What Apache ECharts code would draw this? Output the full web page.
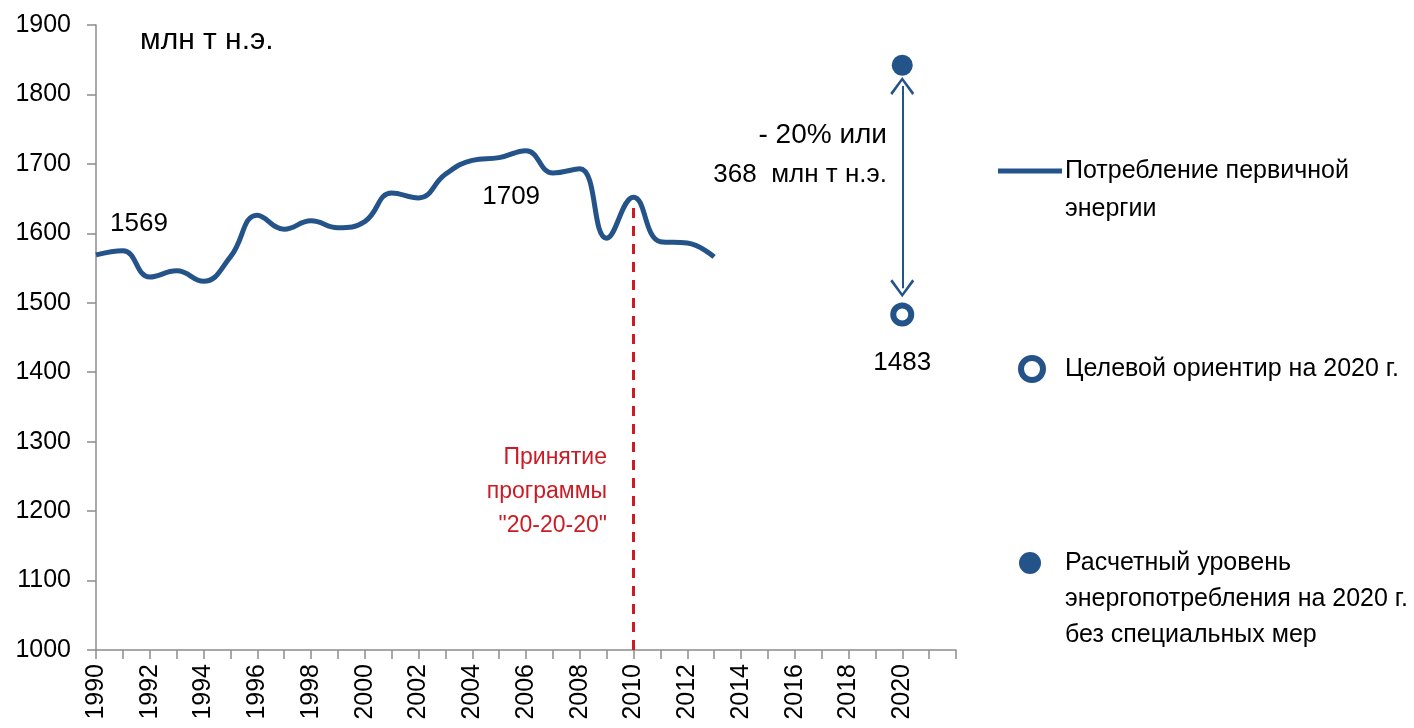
<!DOCTYPE html>
<html>
<head>
<meta charset="utf-8">
<script src="https://cdn.jsdelivr.net/npm/echarts@6/dist/echarts.min.js"></script>
<style>
html,body{margin:0;padding:0;background:#fff;}
#chart{width:1414px;height:728px;}
</style>
</head>
<body>
<div id="chart"></div>
<script>
// ---- data ----
const years = ['1990','1991','1992','1993','1994','1995','1996','1997','1998','1999','2000','2001','2002','2003','2004','2005','2006','2007','2008','2009','2010','2011','2012','2013','2014','2015','2016','2017','2018','2019','2020','2021','2022'];
const consumption = [1569,1575,1537,1546,1531,1566,1626,1606,1618,1608,1617,1658,1651,1685,1705,1709,1719,1687,1693,1593,1652,1588,1586,1566];
const targetYear = '2020';
const target2020 = 1483;
const baseline2020 = 1842;
const programYear = '2010';
const yTicks = {min: 1000, max: 1900, step: 100};

const seriesNames = ['Потребление первичной энергии', 'Целевой ориентир на 2020 г.', 'Расчетный уровень энергопотребления на 2020 г. без специальных мер'];
const legendTexts = ['\nПотребление первичной\nэнергии', 'Целевой ориентир на 2020 г.', '\n\nРасчетный уровень\nэнергопотребления на 2020 г.\nбез специальных мер'];

const BLUE = '#24538a';
const RED = '#cc1b24';
const FONT = 'Liberation Sans, Arial, sans-serif';

const chart = echarts.init(document.getElementById('chart'));
const programIdx = years.indexOf(programYear);
const chevron = 'path://M12,0 L24,16 L22,18 L12,4 L2,18 L0,16 Z';

const option = {
  backgroundColor: '#fff',
  animation: false,
  textStyle: {fontFamily: FONT},
  title: {
    text: 'млн т н.э.', left: 140, top: 26, padding: 0,
    textStyle: {fontFamily: FONT, fontSize: 30, fontWeight: 'normal', color: '#000'}
  },
  grid: {left: 96, right: 458, top: 25, bottom: 78, containLabel: false},
  legend: [
    {data: [{name: seriesNames[0], icon: 'rect'}], left: 998, top: 114, padding: 0, orient: 'vertical', itemWidth: 64, itemHeight: 5,
     formatter: () => legendTexts[0], selectedMode: false,
     textStyle: {fontFamily: FONT, fontSize: 25, lineHeight: 38, color: '#000', padding: [0, 0, 0, -2]}},
    {data: [seriesNames[1]], left: 1018, top: 351, padding: 0, orient: 'vertical', itemWidth: 22, itemHeight: 22,
     formatter: () => legendTexts[1], selectedMode: false,
     itemStyle: {borderWidth: 6, color: '#fff', borderColor: BLUE},
     textStyle: {fontFamily: FONT, fontSize: 25, lineHeight: 36, color: '#000', padding: [0, 0, 0, 17]}},
    {data: [seriesNames[2]], left: 1019, top: 473, padding: 0, orient: 'vertical', itemWidth: 22, itemHeight: 22,
     formatter: () => legendTexts[2], selectedMode: false,
     textStyle: {fontFamily: FONT, fontSize: 25, lineHeight: 36, color: '#000', padding: [0, 0, 0, 19]}}
  ],
  xAxis: {
    type: 'category', data: years, boundaryGap: false,
    axisLine: {lineStyle: {color: '#8c8c8c', width: 1.5}},
    axisTick: {interval: 0, length: 9, lineStyle: {color: '#8c8c8c', width: 1.5}},
    axisLabel: {
      rotate: 90, margin: 14, fontSize: 25, color: '#000', fontFamily: FONT,
      interval: (i, v) => i % 2 === 0 && Number(v) <= 2020
    },
    splitLine: {show: false}
  },
  yAxis: {
    type: 'value', min: yTicks.min, max: yTicks.max, interval: yTicks.step,
    axisLine: {show: true, lineStyle: {color: '#8c8c8c', width: 1.5}},
    axisTick: {show: true, length: 9, lineStyle: {color: '#8c8c8c', width: 1.5}},
    axisLabel: {margin: 25, fontSize: 25, color: '#000', fontFamily: FONT, formatter: v => String(v)},
    splitLine: {show: false}
  },
  series: [
    {
      name: seriesNames[0], type: 'line', data: consumption, smooth: 0.45,
      symbol: 'none', lineStyle: {color: BLUE, width: 5}, itemStyle: {color: BLUE},
      markPoint: {
        symbol: 'circle', symbolSize: 0, silent: true,
        label: {show: true, formatter: '{c}', fontSize: 26, color: '#000', fontFamily: FONT},
        data: [
          {coord: [years[0], consumption[0]], value: consumption[0], label: {offset: [43, -31]}},
          {coord: [years[15], consumption[15]], value: consumption[15], label: {offset: [12, 39]}}
        ]
      },
      markLine: {
        silent: true, symbol: ['none', 'none'],
        label: {show: false},
        lineStyle: {color: RED, width: 3, type: [10, 8]},
        data: [[{coord: [programYear, yTicks.min]}, {coord: [programYear, consumption[programIdx] - 6]}]]
      }
    },
    {
      name: seriesNames[1], type: 'scatter', data: [[targetYear, target2020]],
      symbol: 'circle', symbolSize: 18,
      itemStyle: {color: '#fff', borderColor: BLUE, borderWidth: 6, opacity: 1},
      label: {show: true, position: 'bottom', distance: 23, formatter: '{@[1]}', fontSize: 26, color: '#000', fontFamily: FONT}
    },
    {
      name: seriesNames[2], type: 'scatter', data: [[targetYear, baseline2020]],
      symbol: 'circle', symbolSize: 21,
      itemStyle: {color: BLUE, opacity: 1},
      markLine: {
        silent: true, symbol: [chevron, chevron], symbolSize: [24, 18],
        label: {show: false},
        lineStyle: {color: BLUE, width: 2, type: 'solid', opacity: 1},
        data: [[{coord: [targetYear, baseline2020 - 30]}, {coord: [targetYear, target2020 + 38]}]]
      }
    }
  ],
  graphic: [
    {type: 'text', x: 887, y: 116, silent: true,
     style: {text: '{a|- 20% или}\n{b|368  млн т н.э.}', align: 'right', verticalAlign: 'top', fill: '#000', font: '26px ' + FONT, lineHeight: 39,
       rich: {a: {fontSize: 28, fontFamily: FONT, lineHeight: 39}, b: {fontSize: 26, fontFamily: FONT, lineHeight: 39}}}},
    {type: 'text', x: 607, y: 441, silent: true,
     style: {text: 'Принятие\nпрограммы\n"20-20-20"', align: 'right', verticalAlign: 'top', fill: RED, font: '23px ' + FONT, lineHeight: 34}}
  ]
};
chart.setOption(option);
</script>
</body>
</html>
